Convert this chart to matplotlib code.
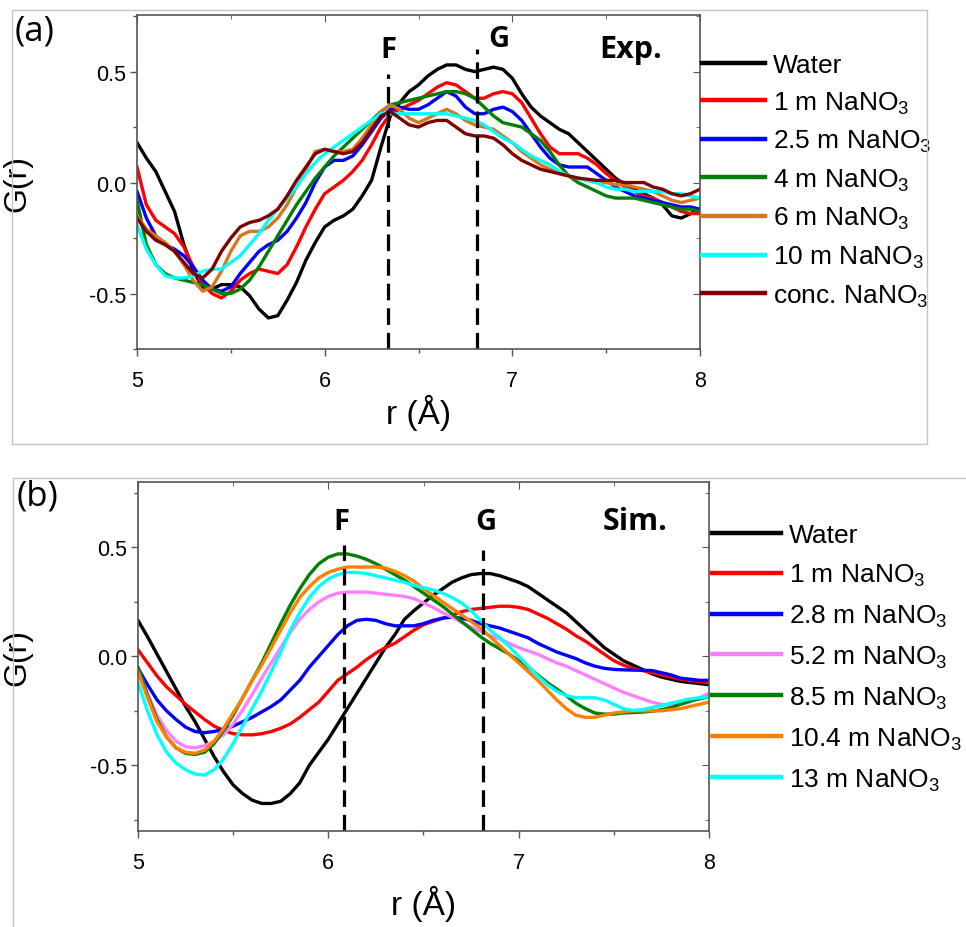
import numpy as np
import matplotlib
matplotlib.use("Agg")
import matplotlib.pyplot as plt
from matplotlib.patches import Rectangle
from matplotlib.ticker import MultipleLocator

plt.rcParams['font.family'] = ['Liberation Sans', 'DejaVu Sans']
plt.rcParams['mathtext.fontset'] = 'custom'
plt.rcParams['mathtext.rm'] = 'Liberation Sans'
plt.rcParams['mathtext.it'] = 'Liberation Sans:italic'
plt.rcParams['mathtext.bf'] = 'Liberation Sans:bold'

# ---------------- data ----------------
r = np.linspace(5.0, 8.0, 61)

# (a) experiment
labels_a = ['Water', '1 m NaNO$_3$', '2.5 m NaNO$_3$', '4 m NaNO$_3$',
            '6 m NaNO$_3$', '10 m NaNO$_3$', 'conc. NaNO$_3$']
colors_a = ['#000000', '#ff0000', '#0000ff', '#008000', '#d2781e', '#00ffff', '#800000']

exp_water = [0.18, 0.11, 0.05, -0.04, -0.13, -0.28, -0.40, -0.47, -0.48, -0.46,
             -0.46, -0.47, -0.51, -0.57, -0.61, -0.60, -0.53, -0.45, -0.35, -0.27,
             -0.20, -0.17, -0.15, -0.12, -0.06, 0.01, 0.16, 0.30, 0.36, 0.41,
             0.44, 0.48, 0.51, 0.53, 0.53, 0.51, 0.50, 0.51, 0.52, 0.51,
             0.47, 0.40, 0.34, 0.30, 0.27, 0.24, 0.22, 0.18, 0.14, 0.10,
             0.06, 0.02, -0.01, -0.03, -0.05, -0.07, -0.10, -0.15, -0.16, -0.14, -0.12]
exp_1m = [0.07, -0.10, -0.17, -0.20, -0.23, -0.29, -0.38, -0.46, -0.50, -0.52,
          -0.49, -0.44, -0.41, -0.39, -0.40, -0.41, -0.37, -0.29, -0.20, -0.12,
          -0.05, -0.02, 0.01, 0.05, 0.10, 0.17, 0.25, 0.31, 0.33, 0.35,
          0.37, 0.40, 0.43, 0.45, 0.44, 0.41, 0.38, 0.38, 0.40, 0.41,
          0.40, 0.36, 0.29, 0.22, 0.16, 0.13, 0.13, 0.13, 0.11, 0.08,
          0.04, 0.01, -0.02, -0.04, -0.06, -0.07, -0.09, -0.11, -0.13, -0.14, -0.14]
exp_2p5m = [-0.04, -0.16, -0.24, -0.28, -0.30, -0.33, -0.38, -0.44, -0.48, -0.49,
            -0.47, -0.41, -0.36, -0.31, -0.28, -0.26, -0.22, -0.16, -0.09, 0.00,
            0.07, 0.10, 0.10, 0.12, 0.17, 0.23, 0.29, 0.33, 0.34, 0.33,
            0.33, 0.35, 0.38, 0.41, 0.39, 0.34, 0.31, 0.31, 0.33, 0.34,
            0.32, 0.28, 0.22, 0.16, 0.11, 0.08, 0.07, 0.07, 0.07, 0.04,
            0.01, -0.02, -0.04, -0.06, -0.07, -0.08, -0.09, -0.10, -0.11, -0.11, -0.12]
exp_4m = [-0.08, -0.28, -0.37, -0.41, -0.43, -0.44, -0.45, -0.46, -0.48, -0.50,
          -0.50, -0.48, -0.44, -0.38, -0.31, -0.24, -0.17, -0.10, -0.04, 0.02,
          0.07, 0.12, 0.16, 0.20, 0.24, 0.28, 0.32, 0.35, 0.36, 0.37,
          0.38, 0.39, 0.40, 0.41, 0.41, 0.40, 0.38, 0.34, 0.30, 0.27,
          0.26, 0.25, 0.22, 0.19, 0.14, 0.08, 0.03, 0.00, -0.02, -0.04,
          -0.06, -0.07, -0.07, -0.07, -0.08, -0.09, -0.10, -0.11, -0.12, -0.12, -0.13]
exp_6m = [-0.15, -0.21, -0.24, -0.27, -0.31, -0.37, -0.44, -0.49, -0.47, -0.40,
          -0.31, -0.24, -0.22, -0.22, -0.20, -0.16, -0.10, -0.02, 0.06, 0.14,
          0.15, 0.14, 0.14, 0.15, 0.20, 0.26, 0.32, 0.35, 0.33, 0.29,
          0.27, 0.29, 0.31, 0.33, 0.31, 0.28, 0.26, 0.25, 0.24, 0.21,
          0.18, 0.14, 0.11, 0.08, 0.06, 0.04, 0.03, 0.02, 0.01, 0.00,
          0.00, -0.01, -0.01, -0.02, -0.03, -0.04, -0.06, -0.08, -0.09, -0.08, -0.07]
exp_10m = [-0.19, -0.30, -0.37, -0.42, -0.43, -0.43, -0.42, -0.40, -0.39, -0.39,
           -0.36, -0.33, -0.28, -0.23, -0.17, -0.12, -0.07, -0.02, 0.04, 0.09,
           0.13, 0.16, 0.19, 0.22, 0.25, 0.28, 0.31, 0.31, 0.31, 0.31,
           0.31, 0.31, 0.31, 0.31, 0.30, 0.29, 0.28, 0.26, 0.23, 0.20,
           0.18, 0.15, 0.12, 0.10, 0.08, 0.05, 0.03, 0.02, 0.01, 0.00,
           -0.02, -0.03, -0.03, -0.04, -0.04, -0.04, -0.04, -0.05, -0.05, -0.06, -0.07]
exp_conc = [-0.16, -0.22, -0.26, -0.28, -0.31, -0.36, -0.41, -0.43, -0.39, -0.31,
            -0.25, -0.20, -0.18, -0.17, -0.15, -0.12, -0.06, 0.01, 0.07, 0.13,
            0.15, 0.14, 0.13, 0.14, 0.18, 0.24, 0.30, 0.32, 0.29, 0.26,
            0.25, 0.27, 0.28, 0.28, 0.25, 0.22, 0.21, 0.21, 0.20, 0.17,
            0.13, 0.10, 0.08, 0.06, 0.05, 0.04, 0.03, 0.02, 0.015, 0.01,
            0.01, 0.01, 0.00, 0.00, 0.00, -0.02, -0.03, -0.05, -0.06, -0.05, -0.03]
series_a = [exp_water, exp_1m, exp_2p5m, exp_4m, exp_6m, exp_10m, exp_conc]

# (b) simulation
labels_b = ['Water', '1 m NaNO$_3$', '2.8 m NaNO$_3$', '5.2 m NaNO$_3$',
            '8.5 m NaNO$_3$', '10.4 m NaNO$_3$', '13 m NaNO$_3$']
colors_b = ['#000000', '#ff0000', '#0000ff', '#ff80ff', '#008000', '#ff8000', '#00ffff']

sim_water = [0.165, 0.09, 0.01, -0.07, -0.15, -0.23, -0.30, -0.38, -0.46, -0.53,
             -0.59, -0.63, -0.66, -0.675, -0.675, -0.665, -0.63, -0.58, -0.50, -0.44,
             -0.38, -0.31, -0.24, -0.17, -0.10, -0.03, 0.04, 0.10, 0.17, 0.21,
             0.245, 0.28, 0.31, 0.34, 0.36, 0.375, 0.38, 0.38, 0.37, 0.355,
             0.34, 0.32, 0.29, 0.26, 0.23, 0.20, 0.16, 0.12, 0.08, 0.04,
             0.01, -0.02, -0.04, -0.06, -0.08, -0.095, -0.105, -0.115, -0.12, -0.125, -0.13]
sim_1m = [0.03, -0.03, -0.09, -0.14, -0.18, -0.22, -0.255, -0.29, -0.32, -0.34,
          -0.355, -0.36, -0.36, -0.355, -0.345, -0.33, -0.31, -0.28, -0.245, -0.21,
          -0.16, -0.11, -0.08, -0.05, -0.015, 0.015, 0.04, 0.06, 0.09, 0.12,
          0.145, 0.16, 0.175, 0.19, 0.205, 0.215, 0.22, 0.225, 0.23, 0.23,
          0.225, 0.215, 0.195, 0.175, 0.15, 0.125, 0.095, 0.07, 0.04, 0.01,
          -0.02, -0.04, -0.055, -0.065, -0.075, -0.085, -0.095, -0.105, -0.11, -0.115, -0.12]
sim_2p8m = [-0.055, -0.13, -0.20, -0.25, -0.29, -0.325, -0.345, -0.35, -0.345, -0.335,
            -0.32, -0.30, -0.28, -0.255, -0.23, -0.20, -0.155, -0.11, -0.05, 0.00,
            0.05, 0.10, 0.14, 0.165, 0.17, 0.165, 0.15, 0.14, 0.14, 0.14,
            0.15, 0.165, 0.175, 0.18, 0.175, 0.165, 0.15, 0.14, 0.13, 0.115,
            0.10, 0.085, 0.06, 0.04, 0.02, 0.005, -0.01, -0.03, -0.045, -0.055,
            -0.06, -0.062, -0.063, -0.064, -0.065, -0.075, -0.085, -0.10, -0.105, -0.11, -0.11]
sim_5p2m = [-0.06, -0.17, -0.27, -0.34, -0.39, -0.415, -0.42, -0.41, -0.39, -0.36,
            -0.31, -0.245, -0.175, -0.10, -0.03, 0.04, 0.11, 0.17, 0.215, 0.25,
            0.275, 0.29, 0.295, 0.295, 0.295, 0.29, 0.285, 0.28, 0.275, 0.265,
            0.245, 0.225, 0.20, 0.18, 0.155, 0.135, 0.115, 0.095, 0.08, 0.06,
            0.04, 0.025, 0.01, -0.01, -0.03, -0.045, -0.065, -0.085, -0.105, -0.125,
            -0.145, -0.165, -0.18, -0.195, -0.21, -0.22, -0.225, -0.22, -0.21, -0.19, -0.17]
sim_8p5m = [-0.05, -0.18, -0.29, -0.37, -0.42, -0.445, -0.45, -0.44, -0.40, -0.34,
            -0.27, -0.19, -0.11, -0.03, 0.06, 0.15, 0.235, 0.31, 0.375, 0.425,
            0.455, 0.47, 0.47, 0.46, 0.445, 0.425, 0.40, 0.375, 0.35, 0.32,
            0.29, 0.26, 0.23, 0.195, 0.16, 0.125, 0.09, 0.06, 0.035, 0.01,
            -0.02, -0.05, -0.085, -0.12, -0.15, -0.18, -0.215, -0.24, -0.26, -0.265,
            -0.265, -0.26, -0.258, -0.256, -0.252, -0.245, -0.235, -0.22, -0.205, -0.195, -0.185]
sim_10p4m = [-0.07, -0.19, -0.30, -0.37, -0.42, -0.44, -0.445, -0.43, -0.39, -0.33,
             -0.26, -0.19, -0.11, -0.04, 0.04, 0.12, 0.20, 0.27, 0.32, 0.36,
             0.385, 0.40, 0.41, 0.41, 0.41, 0.41, 0.405, 0.39, 0.37, 0.345,
             0.31, 0.28, 0.25, 0.22, 0.19, 0.16, 0.13, 0.09, 0.05, 0.01,
             -0.03, -0.07, -0.11, -0.155, -0.20, -0.24, -0.27, -0.28, -0.28, -0.27,
             -0.26, -0.255, -0.25, -0.25, -0.25, -0.25, -0.245, -0.24, -0.23, -0.22, -0.21]
sim_13m = [-0.12, -0.25, -0.36, -0.44, -0.49, -0.52, -0.54, -0.545, -0.52, -0.47,
           -0.40, -0.32, -0.24, -0.16, -0.07, 0.02, 0.12, 0.20, 0.27, 0.32,
           0.355, 0.375, 0.385, 0.385, 0.38, 0.37, 0.36, 0.35, 0.34, 0.325,
           0.315, 0.305, 0.29, 0.27, 0.245, 0.21, 0.165, 0.12, 0.085, 0.045,
           0.00, -0.045, -0.09, -0.13, -0.16, -0.18, -0.19, -0.19, -0.19, -0.20,
           -0.22, -0.24, -0.248, -0.245, -0.235, -0.225, -0.215, -0.205, -0.195, -0.19, -0.185]
series_b = [sim_water, sim_1m, sim_2p8m, sim_5p2m, sim_8p5m, sim_10p4m, sim_13m]

# marker lines F and G: (position, top of dashed line)
fg_a = {'F': (6.34, 0.49), 'G': (6.81, 0.60)}
fg_b = {'F': (6.08, 0.51), 'G': (6.81, 0.49)}
fg_label_a = {'F': (6.34, 0.60), 'G': (6.93, 0.65)}
fg_label_b = {'F': (6.07, 0.62), 'G': (6.83, 0.62)}

# ---------------- figure ----------------
W, H = 966, 928
fig = plt.figure(figsize=(W / 100, H / 100), dpi=100)

# panel frames
fig.add_artist(Rectangle((12 / W, 1 - 445 / H), 915 / W, 434 / H,
                         transform=fig.transFigure, fill=False,
                         ec='#c4c4c4', lw=1.0))
fig.add_artist(Rectangle((13 / W, -0.05), 1.2, 0.05 + (H - 479) / H,
                         transform=fig.transFigure, fill=False,
                         ec='#c4c4c4', lw=1.0, clip_on=False))

ax_a = fig.add_axes([137 / W, 1 - 350 / H, 563 / W, 334 / H])
ax_b = fig.add_axes([138 / W, 1 - 831.7 / H, 571 / W, 348.7 / H])

spine_col = '#555555'
bold_font = ['Open Sans', 'DejaVu Sans']


def style(ax, ylim, xlab_y):
    ax.set_xlim(5, 8)
    ax.set_ylim(*ylim)
    ax.xaxis.set_minor_locator(MultipleLocator(0.5))
    ax.yaxis.set_minor_locator(MultipleLocator(0.25))
    ax.set_xticks([5, 6, 7, 8])
    ax.set_xticklabels(['5', '6', '7', '8'])
    ax.set_yticks([-0.5, 0.0, 0.5])
    ax.set_yticklabels(['-0.5', '0.0', '0.5'])
    for s in ax.spines.values():
        s.set_color(spine_col)
        s.set_linewidth(1.2)
    ax.tick_params(axis='both', which='major', direction='out', length=5,
                   width=1.0, color=spine_col, labelsize=15.5)
    ax.tick_params(axis='both', which='minor', direction='out', length=3,
                   width=1.0, color=spine_col)
    ax.tick_params(axis='x', which='major', pad=10)
    ax.tick_params(axis='y', which='major', pad=3)
    # mirrored inward ticks on top and right
    sx = ax.secondary_xaxis('top')
    sx.xaxis.set_major_locator(MultipleLocator(1))
    sx.xaxis.set_minor_locator(MultipleLocator(0.5))
    sx.tick_params(which='both', direction='in', color=spine_col, labeltop=False)
    sx.tick_params(which='major', length=5)
    sx.tick_params(which='minor', length=3)
    sx.spines['top'].set_visible(False)
    sy = ax.secondary_yaxis('right')
    sy.yaxis.set_major_locator(MultipleLocator(0.5))
    sy.yaxis.set_minor_locator(MultipleLocator(0.25))
    sy.tick_params(which='both', direction='in', color=spine_col, labelright=False)
    sy.tick_params(which='major', length=5)
    sy.tick_params(which='minor', length=3)
    sy.spines['right'].set_visible(False)
    ax.set_xlabel('r (Å)', fontsize=24)
    ax.xaxis.set_label_coords(0.5, xlab_y)
    ax.set_ylabel('G(r)', fontsize=23)
    ax.yaxis.set_label_coords(-0.185, 0.5)


def draw(ax, series, colors, labels, fg, fg_lab, tag, ylim, leg_xy, lsp, hlen):
    for y, c, lab in zip(series, colors, labels):
        ax.plot(r, y, color=c, lw=2.4, label=lab, solid_joinstyle='round')
    for k, (xpos, ytop) in fg.items():
        ax.plot([xpos, xpos], [ylim[0], ytop], color='black', lw=2.3,
                linestyle=(0, (5.2, 2.5)))
    for k, (xl, yl) in fg_lab.items():
        ax.text(xl, yl, k, ha='center', va='center', fontsize=21,
                fontweight='bold', family=bold_font)
    ax.text(tag[0], tag[1], tag[2], ha='center', va='center', fontsize=22,
            fontweight='bold', family=bold_font)
    leg = ax.legend(loc='upper left', bbox_to_anchor=leg_xy,
                    bbox_transform=fig.transFigure, frameon=False,
                    fontsize=19, handlelength=hlen, handletextpad=0.3,
                    labelspacing=lsp, borderpad=0, borderaxespad=0)
    for h in leg.get_lines():
        h.set_linewidth(3.2)


ylim_a = (-0.75, 0.755)
ylim_b = (-0.8, 0.8)
style(ax_a, ylim_a, -0.135)
style(ax_b, ylim_b, -0.155)
draw(ax_a, series_a, colors_a, labels_a, fg_a, fg_label_a,
     (7.63, 0.60, 'Exp.'), ylim_a, (702 / W, 1 - 54 / H), 0.47, 2.4)
draw(ax_b, series_b, colors_b, labels_b, fg_b, fg_label_b,
     (7.61, 0.62, 'Sim.'), ylim_b, (712 / W, 1 - 524 / H), 0.56, 2.6)

fig.text(35 / W, 1 - 32 / H, '(a)', fontsize=25, ha='center', va='center',
         family=bold_font)
fig.text(37 / W, 1 - 497 / H, '(b)', fontsize=25, ha='center', va='center',
         family=bold_font)

fig.savefig('out.png', dpi=100)
